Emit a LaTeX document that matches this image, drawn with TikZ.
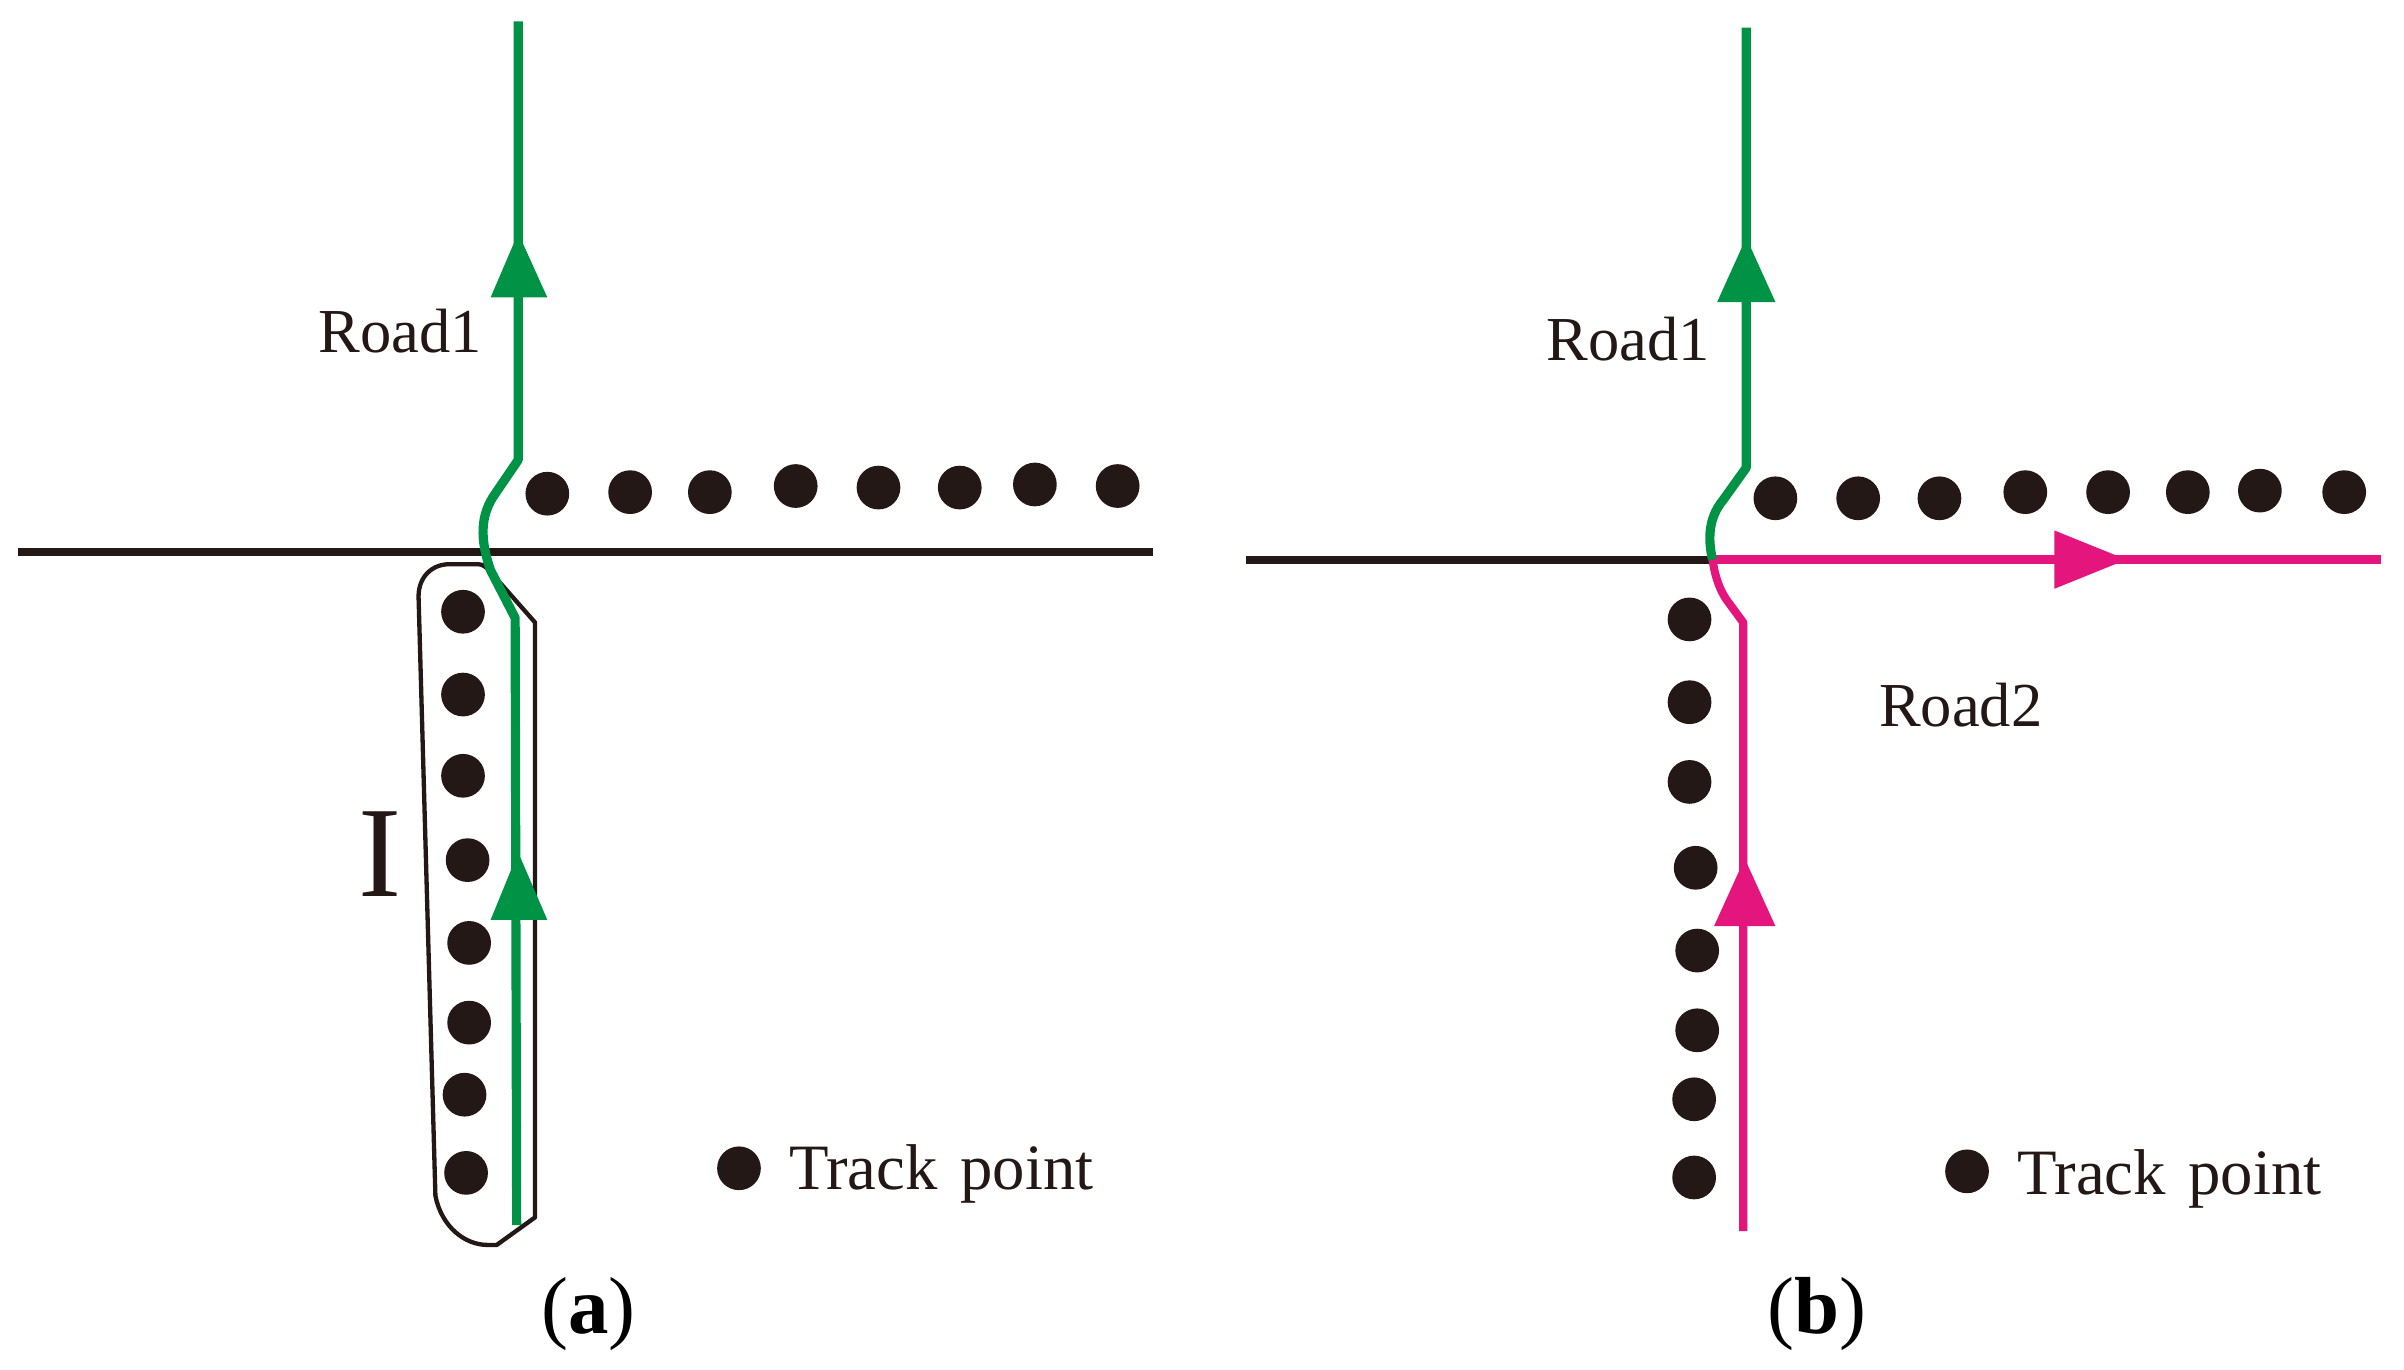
\documentclass[tikz,border=0pt]{standalone}
\usepackage{fontspec}
\setmainfont{Liberation Serif}
\definecolor{ink}{RGB}{35,24,21}
\definecolor{roadgreen}{RGB}{0,146,69}
\definecolor{roadpink}{RGB}{228,22,126}
\tikzset{
  trackdot/.style={circle,fill=ink,inner sep=0pt,minimum size=0.285cm},
  mainroad/.style={draw=ink,line width=1.5pt},
  greenroad/.style={draw=roadgreen,line width=1.7pt,line join=round},
  pinkroad/.style={draw=roadpink,line width=1.5pt,line join=round},
  outline/.style={draw=ink,line width=0.8pt,line join=round},
  lbl/.style={inner sep=0pt,text=ink,font=\fontsize{11.6}{13}\selectfont},
  legend/.style={inner sep=0pt,text=ink,font=\fontsize{12}{14}\selectfont},
  captionlbl/.style={inner sep=0pt,text=black,font=\fontsize{15}{17}\selectfont}
}
\begin{document}
\begin{tikzpicture}[x=0.01cm,y=-0.01cm]
\useasboundingbox (0,0) rectangle (1568,893);
\fill[white] (0,0) rectangle (1568,893);

% ================= panel (a) =================
\coordinate (aL) at (12,360);
\coordinate (aR) at (752,360);
\draw[mainroad] (aL) -- (aR);

% outline I
\draw[outline] (273,389) .. controls (273,376) and (282,368) .. (293,368) -- (312,368)
  .. controls (315,368) and (317,370) .. (319,372) -- (349,406) -- (349,794) -- (324,812) -- (318,812)
  .. controls (303,812) and (288,800) .. (284,780) -- cycle;

% green road
\coordinate (gaTop) at (338,14);
\coordinate (gaBot) at (337,799);
\draw[greenroad] (gaBot) -- (336,403) -- (320,372) .. controls (313,352) and (313,336) .. (323,322) -- (338,300) -- (gaTop);
\fill[roadgreen] (338,152) -- (357,194) -- (320,194) -- cycle;
\fill[roadgreen] (338,556) -- (357,600) -- (320,600) -- cycle;

% dots row (a)
\foreach \x/\y [count=\i] in {357/322,411/321,463/321,519/317,573/318,626/318,675/316,729/317}
  \node[trackdot] (ar\i) at (\x,\y) {};
% dots column (a)
\foreach \x/\y [count=\i] in {302/399,302/453,302/506,305/561,306/615,306/667,303/714,304/765}
  \node[trackdot] (ac\i) at (\x,\y) {};

\node[lbl,anchor=base west] (road1a) at (207,230) {Road1};
\node[inner sep=0pt,text=ink,font=\fontsize{24}{26}\selectfont] (Ilabel) at (248,557) {I};
\node[trackdot] (legdotA) at (482,762) {};
\node[legend,anchor=base west] (legtxtA) at (514,776) {Track\hspace{0.35em}point};
\node[captionlbl] (capA) at (384,857) {(\textbf{a})};

% ================= panel (b) =================
\coordinate (bL) at (813,365);
\coordinate (bJ) at (1117,365);
\coordinate (bR) at (1553,365);
\draw[mainroad] (bL) -- (bJ);

% pink road
\coordinate (pBot) at (1137,803);
\draw[pinkroad] (pBot) -- (1137,406) -- (1126,391) .. controls (1120,382) and (1118,372) .. (bJ);
\draw[pinkroad,line width=1.7pt] (bJ) -- (bR);
\fill[roadpink] (1138,560) -- (1158,604) -- (1118,604) -- cycle;
\fill[roadpink] (1387,365) -- (1340,346) -- (1340,384) -- cycle;

% green road
\coordinate (gbTop) at (1139,18);
\draw[greenroad] (bJ) .. controls (1114,352) and (1114,338) .. (1124,326) -- (1139,305) -- (gbTop);
\fill[roadgreen] (1139,155) -- (1158,197) -- (1120,197) -- cycle;

% dots row (b)
\foreach \x/\y [count=\i] in {1158/325,1212/325,1265/325,1321/321,1375/321,1427/321,1474/320,1529/321}
  \node[trackdot] (br\i) at (\x,\y) {};
% dots column (b)
\foreach \x/\y [count=\i] in {1102/404,1102/458,1102/510,1106/566,1107/620,1107/672,1105/717,1105/768}
  \node[trackdot] (bc\i) at (\x,\y) {};

\node[lbl,anchor=base west] (road1b) at (1008,235) {Road1};
\node[lbl,anchor=base west] (road2b) at (1225,474) {Road2};
\node[trackdot] (legdotB) at (1283,764) {};
\node[legend,anchor=base west] (legtxtB) at (1315,779) {Track\hspace{0.35em}point};
\node[captionlbl] (capB) at (1185,857) {(\textbf{b})};
\end{tikzpicture}
\end{document}
